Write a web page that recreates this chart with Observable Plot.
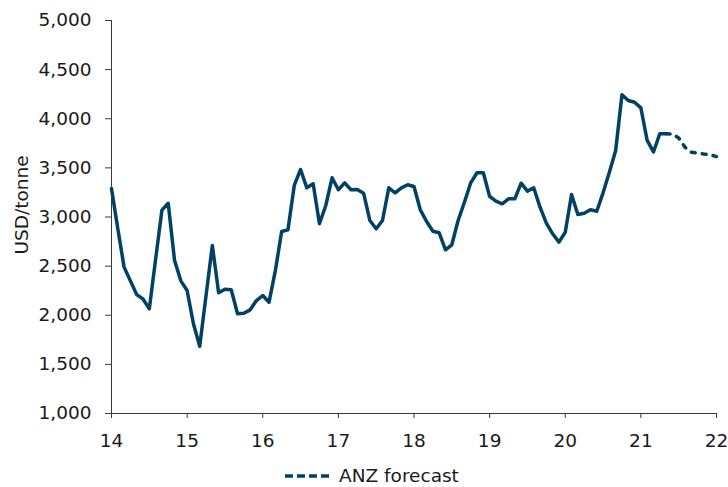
<!DOCTYPE html>
<html>
<head>
<meta charset="utf-8">
<script src="https://cdn.jsdelivr.net/npm/d3@7"></script>
<script src="https://cdn.jsdelivr.net/npm/@observablehq/plot@0.6"></script>
<style>
  html, body { margin: 0; padding: 0; background: #fff; }
  body { font-family: "DejaVu Sans", Verdana, sans-serif; width: 728px; height: 487px; overflow: hidden; }
  #legend { position: relative; height: 35px; }
  #legend .item { position: absolute; left: 284px; top: 14px; display: flex; align-items: center; gap: 5px;
                  font-size: 18.5px; color: #1a1a1a; line-height: 20px; }
</style>
</head>
<body>
<div id="chart"></div>
<div id="legend"><div class="item"><svg width="50" height="10"><line x1="1" y1="5" x2="49" y2="5" stroke="#004165" stroke-width="3.5" stroke-dasharray="8,4"/></svg><span>ANZ forecast</span></div></div>
<script>
// Monthly aluminium price, USD/tonne; first value = Jan 2014 (x = 14)
const startYear = 14;
const actualValues = [
  3290, 2880, 2490, 2350, 2210, 2165, 2065, 2570, 3070, 3140, 2560, 2350, // 2014
  2252, 1913, 1685, 2200, 2710, 2228, 2265, 2259, 2015, 2021, 2055, 2150, // 2015
  2201, 2133, 2455, 2852, 2870, 3321, 3484, 3297, 3338, 2931, 3117, 3399, // 2016
  3277, 3348, 3277, 3280, 3242, 2964, 2880, 2964, 3297, 3246, 3297, 3328, // 2017
  3310, 3073, 2954, 2855, 2839, 2666, 2717, 2964, 3150, 3348, 3450, 3450, // 2018
  3209, 3161, 3134, 3185, 3185, 3344, 3263, 3297, 3100, 2937, 2829, 2744, // 2019
  2845, 3229, 3025, 3038, 3073, 3059, 3246, 3456, 3677, 4244, 4186, 4168, // 2020
  4111, 3779, 3662, 3847, 3847                                            // 2021 Jan-May
];
// ANZ forecast, May 2021 - Jan 2022
const forecastStartMonth = 88;
const forecastValues = [3847, 3845, 3805, 3710, 3660, 3650, 3640, 3635, 3615];

const xTicks = [14, 15, 16, 17, 18, 19, 20, 21, 22];
const yTicks = [1000, 1500, 2000, 2500, 3000, 3500, 4000, 4500, 5000];
const yLabel = "USD/tonne";
const lineColor = "#004165";
const axisColor = "#3a3a3a";

const actual = actualValues.map((v, i) => ({x: startYear + i / 12, y: v}));
const forecast = forecastValues.map((v, i) => ({x: startYear + (forecastStartMonth + i) / 12, y: v}));

const chart = Plot.plot({
  width: 728,
  height: 452,
  marginTop: 20,
  marginBottom: 39,
  marginLeft: 111,
  marginRight: 12,
  style: {fontFamily: "DejaVu Sans, Verdana, sans-serif", fontSize: "18.5px", color: "#1a1a1a", background: "#fff"},
  x: {domain: [14, 22], ticks: xTicks, tickFormat: d => String(d), tickSize: 5, tickPadding: 15, label: null},
  y: {domain: [1000, 5000], ticks: yTicks, tickFormat: d3.format(","), tickSize: 6, tickPadding: 14, label: null},
  marks: [
    Plot.ruleX([14], {stroke: axisColor}),
    Plot.ruleY([1000], {stroke: axisColor}),
    Plot.line(actual, {x: "x", y: "y", stroke: lineColor, strokeWidth: 3.5, strokeLinejoin: "round", strokeLinecap: "round"}),
    Plot.line(forecast, {x: "x", y: "y", stroke: lineColor, strokeWidth: 3.5, strokeLinejoin: "round", strokeLinecap: "round", strokeDasharray: "4,7"}),
    Plot.text([yLabel], {frameAnchor: "left", dx: -89.5, dy: -12, rotate: -90, textAnchor: "middle", fontSize: 18.5, fill: "#1a1a1a"})
  ]
});
chart.querySelectorAll('g[aria-label="x-axis tick"] path, g[aria-label="y-axis tick"] path').forEach(p => p.setAttribute("stroke", axisColor));
document.getElementById("chart").appendChild(chart);
</script>
</body>
</html>
